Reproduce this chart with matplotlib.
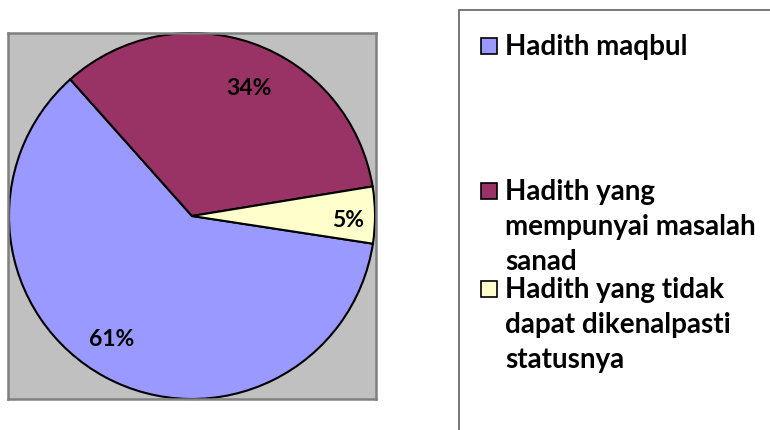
import matplotlib.pyplot as plt
from matplotlib.patches import Rectangle

labels = ["Hadith maqbul",
          "Hadith yang\nmempunyai masalah\nsanad",
          "Hadith yang tidak\ndapat dikenalpasti\nstatusnya"]
shares = [61, 34, 5]
colors = ["#9999FF", "#993366", "#FFFFCC"]

plt.rcParams['font.family'] = ['Lato', 'DejaVu Sans']

fig = plt.figure(figsize=(7.7, 4.31), dpi=100)
W, H = 770, 431

# plot area (gray box) in pixel coords
bx0, bx1, by0, by1 = 8, 376, 34, 400
ax = fig.add_axes([bx0 / W, 1 - by1 / H, (bx1 - bx0) / W, (by1 - by0) / H])

wedges, texts, autotexts = ax.pie(
    shares, colors=colors, startangle=-8.7, counterclock=False,
    autopct=lambda p: f"{p:.0f}%", pctdistance=0.8,
    wedgeprops=dict(edgecolor="black", linewidth=1.5),
    textprops=dict(fontsize=16.5, fontweight="bold", color="black"))
# excel-style label spots (unit radius)
label_pos = [(-0.44, -0.67), (0.31, 0.70), (0.85, -0.02)]
for t, p in zip(autotexts, label_pos):
    t.set_position(p)

ax.set_frame_on(True)
ax.set_facecolor("#C0C0C0")
for s in ax.spines.values():
    s.set_color("#808080")
    s.set_linewidth(1.8)
ax.set_xticks([])
ax.set_yticks([])
ax.set_aspect("auto")
ax.set_xlim(-184 / 183, 184 / 183)
ax.set_ylim(-1.0, 1.0)

# legend box
fig.patches.append(Rectangle((458.5 / W, -0.1), 0.5, 1 - 11 / H + 0.1,
                             transform=fig.transFigure, facecolor="white",
                             edgecolor="#606060", linewidth=1.2))

line_h = 35
first_line_y = [47, 192, 290]
for lab, col, y in zip(labels, colors, first_line_y):
    fig.patches.append(Rectangle((481 / W, 1 - (y + 8) / H), 16 / W, 16 / H,
                                 transform=fig.transFigure, facecolor=col,
                                 edgecolor="black", linewidth=1.2))
    for i, part in enumerate(lab.split("\n")):
        fig.text(505 / W, 1 - (y + i * line_h) / H, part, fontsize=20,
                 fontweight="bold", va="center", ha="left")

fig.savefig("out.png", dpi=100)
